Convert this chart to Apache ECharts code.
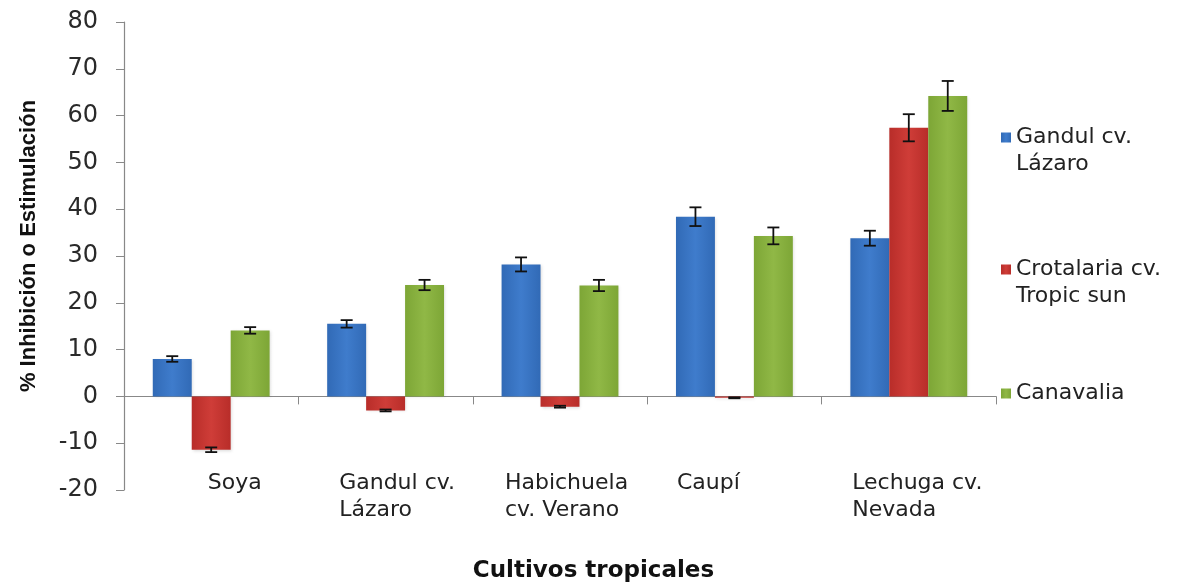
<!DOCTYPE html>
<html>
<head>
<meta charset="utf-8">
<script src="https://cdn.jsdelivr.net/npm/echarts/dist/echarts.min.js"></script>
<style>
  html, body { margin: 0; padding: 0; background: #ffffff; }
  #chart { width: 1185px; height: 585px; }
</style>
</head>
<body>
<div id="chart"></div>
<script>
// ---- data ----
const categories = ['Soya', 'Gandul cv.\nLázaro', 'Habichuela\ncv. Verano', 'Caupí', 'Lechuga cv.\nNevada'];
const seriesNames = ['Gandul cv. Lázaro', 'Crotalaria cv. Tropic sun', 'Canavalia'];
const legendLabels = ['Gandul cv.\nLázaro', 'Crotalaria cv.\nTropic sun', 'Canavalia'];
const gandulValues = [8.0, 15.5, 28.2, 38.4, 33.8];
const gandulErrors = [0.6, 0.8, 1.5, 2.0, 1.6];
const crotalariaValues = [-11.4, -3.0, -2.2, -0.3, 57.4];
const crotalariaErrors = [0.5, 0.2, 0.2, 0.1, 2.9];
const canavaliaValues = [14.1, 23.8, 23.7, 34.3, 64.2];
const canavaliaErrors = [0.7, 1.1, 1.2, 1.8, 3.2];
const yTicks = { min: -20, max: 80, interval: 10 };
const yTitle = '% Inhibición o Estimulación';
const xTitle = 'Cultivos tropicales';

// ---- styling ----
const FONT = 'DejaVu Sans';
const palette = [
  ['#316ab6', '#3f7ccc'],
  ['#b82d29', '#cf3d38'],
  ['#7da636', '#90b846']
];
const labelShift = [[47, 0], [23, 0], [13, 0], [0, 52], [17, 0]];
const CAT_GAP = 0.33;

function grad(c) {
  return new echarts.graphic.LinearGradient(0, 0, 1, 0, [
    { offset: 0, color: c[0] },
    { offset: 0.5, color: c[1] },
    { offset: 1, color: c[0] }
  ]);
}

const valueSets = [gandulValues, crotalariaValues, canavaliaValues];
const errorSets = [gandulErrors, crotalariaErrors, canavaliaErrors];

const rich = {};
labelShift.forEach((s, i) => {
  rich['s' + i] = {
    fontFamily: FONT, fontSize: 22, lineHeight: 27, color: '#222',
    align: 'left', padding: [0, s[1], 0, s[0]]
  };
});

const series = [];
valueSets.forEach((vals, k) => {
  series.push({
    name: seriesNames[k],
    type: 'bar',
    data: vals,
    barGap: '0%',
    barCategoryGap: (CAT_GAP * 100) + '%',
    itemStyle: {
      color: grad(palette[k]),
      shadowBlur: 3, shadowColor: 'rgba(0,0,0,0.15)', shadowOffsetX: 1, shadowOffsetY: 1
    },
    emphasis: { disabled: true },
    z: 2
  });
});

valueSets.forEach((vals, k) => {
  series.push({
    type: 'custom',
    name: 'err' + k,
    z: 5,
    silent: true,
    encode: { x: 0, y: 1 },
    data: vals.map((v, i) => [i, v, errorSets[k][i], k]),
    renderItem: function (params, api) {
      const ci = api.value(0), v = api.value(1), e = api.value(2), kk = api.value(3);
      const catW = api.size([1, 0])[0];
      const bw = catW * (1 - CAT_GAP) / 3;
      const xc = api.coord([ci, v])[0] + (kk - 1) * bw;
      const yT = api.coord([ci, v + e])[1];
      const yB = api.coord([ci, v - e])[1];
      const hw = 6;
      const st = { stroke: '#111', lineWidth: 1.8 };
      return {
        type: 'group',
        children: [
          { type: 'line', shape: { x1: xc, y1: yT, x2: xc, y2: yB }, style: st },
          { type: 'line', shape: { x1: xc - hw, y1: yT, x2: xc + hw, y2: yT }, style: st },
          { type: 'line', shape: { x1: xc - hw, y1: yB, x2: xc + hw, y2: yB }, style: st }
        ]
      };
    }
  });
});

const legendTops = [97, 229, 380];
const legends = seriesNames.map((n, k) => ({
  data: [n],
  orient: 'vertical',
  left: 1001,
  top: legendTops[k],
  padding: 0,
  itemWidth: 10,
  itemHeight: 10,
  icon: 'rect',
  selectedMode: false,
  formatter: function () {
    const lbl = legendLabels[k];
    return lbl.indexOf('\n') >= 0 ? '\n' + lbl : lbl;
  },
  textStyle: { fontFamily: FONT, fontSize: 22, lineHeight: 27, color: '#222' }
}));

const option = {
  backgroundColor: '#ffffff',
  animation: false,
  grid: { left: 124, right: 189, top: 22, bottom: 95, containLabel: false, outerBoundsMode: 'none' },
  legend: legends,
  xAxis: {
    type: 'category',
    data: categories,
    axisLine: { onZero: true, lineStyle: { color: '#888', width: 1.2 } },
    axisTick: { show: true, length: 8, lineStyle: { color: '#888' } },
    axisLabel: {
      interval: 0,
      margin: -20,
      formatter: function (value, idx) {
        return value.split('\n').map(l => '{s' + idx + '|' + l + '}').join('\n');
      },
      rich: rich
    },
    name: xTitle,
    nameLocation: 'middle',
    nameGap: 70,
    nameTextStyle: {
      fontFamily: FONT, fontWeight: 'bold', fontSize: 23, color: '#111',
      padding: [0, 0, 0, 67]
    },
    splitLine: { show: false }
  },
  yAxis: {
    type: 'value',
    min: yTicks.min,
    max: yTicks.max,
    interval: yTicks.interval,
    axisLine: { show: true, lineStyle: { color: '#888', width: 1.2 } },
    axisTick: { show: true, length: 8, lineStyle: { color: '#888' } },
    axisLabel: { fontFamily: FONT, fontSize: 24, color: '#2a2a2a', margin: 26 },
    splitLine: { show: false },
    name: yTitle,
    nameLocation: 'middle',
    nameGap: 84,
    nameTextStyle: {
      fontFamily: 'Liberation Sans', fontWeight: 'bold', fontSize: 22, color: '#111',
      padding: [0, 0, 0, 20]
    }
  },
  series: series
};

const chart = echarts.init(document.getElementById('chart'), null, { renderer: 'canvas' });
chart.setOption(option);
</script>
</body>
</html>
